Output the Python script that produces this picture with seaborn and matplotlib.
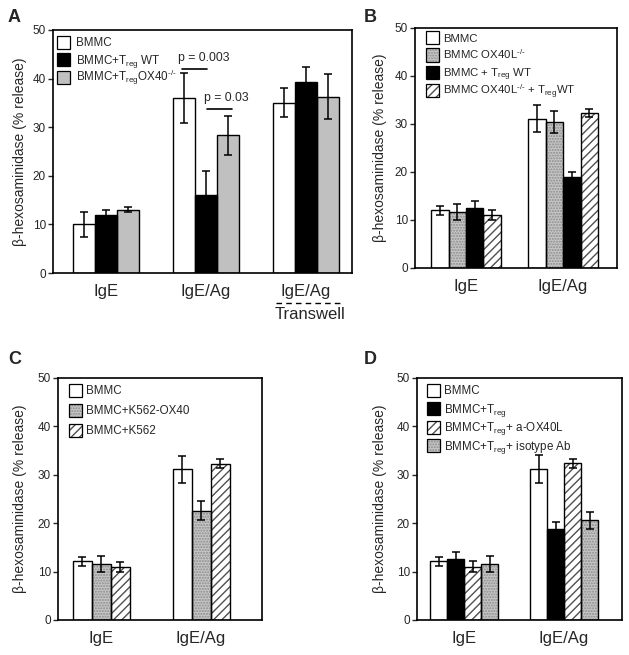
import numpy as np
import pandas as pd
import matplotlib
matplotlib.use('Agg')
import matplotlib.pyplot as plt
import matplotlib.transforms as mtransforms
from matplotlib.patches import Rectangle
import seaborn as sns

sns.set_style('ticks')
plt.rcParams['font.family'] = ['Liberation Sans', 'DejaVu Sans']
plt.rcParams['mathtext.fontset'] = 'custom'
plt.rcParams['mathtext.rm'] = 'Liberation Sans'
plt.rcParams['mathtext.it'] = 'Liberation Sans:italic'
plt.rcParams['mathtext.bf'] = 'Liberation Sans:bold'
plt.rcParams['hatch.linewidth'] = 1.0

## 데이터
# A
cats_a = ['IgE', 'IgE/Ag', 'IgE/Ag Transwell']
groups_a = ['BMMC', r'BMMC+T$_{\rm reg}$ WT', r'BMMC+T$_{\rm reg}$OX40$^{\text{-/-}}$']
a_bmmc = [10.0, 36.0, 35.0]
a_treg_wt = [12.0, 16.0, 39.3]
a_treg_ox40 = [13.0, 28.3, 36.3]
a_bmmc_err = [2.5, 5.2, 3.0]
a_treg_wt_err = [1.0, 4.9, 3.0]
a_treg_ox40_err = [0.5, 4.0, 4.7]

# B
cats_b = ['IgE', 'IgE/Ag']
groups_b = ['BMMC', r'BMMC OX40L$^{\text{-/-}}$', r'BMMC + T$_{\rm reg}$ WT',
            r'BMMC OX40L$^{\text{-/-}}$ + T$_{\rm reg}$WT']
b_bmmc = [12.0, 31.1]
b_ox40l = [11.6, 30.4]
b_treg_wt = [12.6, 18.9]
b_ox40l_treg = [11.0, 32.3]
b_bmmc_err = [1.0, 2.8]
b_ox40l_err = [1.7, 2.3]
b_treg_wt_err = [1.4, 1.2]
b_ox40l_treg_err = [1.0, 0.9]

# C
cats_c = ['IgE', 'IgE/Ag']
groups_c = ['BMMC', 'BMMC+K562-OX40', 'BMMC+K562']
c_bmmc = [12.1, 31.1]
c_k562_ox40 = [11.6, 22.6]
c_k562 = [11.0, 32.3]
c_bmmc_err = [0.9, 2.8]
c_k562_ox40_err = [1.6, 2.0]
c_k562_err = [1.0, 0.9]

# D
cats_d = ['IgE', 'IgE/Ag']
groups_d = ['BMMC', r'BMMC+T$_{\rm reg}$', r'BMMC+T$_{\rm reg}$+ a-OX40L',
            r'BMMC+T$_{\rm reg}$+ isotype Ab']
d_bmmc = [12.1, 31.2]
d_treg = [12.7, 18.9]
d_treg_aox40l = [11.0, 32.4]
d_treg_iso = [11.6, 20.6]
d_bmmc_err = [0.9, 2.8]
d_treg_err = [1.4, 1.3]
d_treg_aox40l_err = [1.1, 0.9]
d_treg_iso_err = [1.6, 1.8]

# 막대 스타일: (면색, 해치, 해치색)
WHITE = ('white', '', 'white')
BLACK = ('black', '', 'black')
GRAY = ('#c0c0c0', '', '#c0c0c0')
DOTS = ('#c6c6c6', '......', '#8c8c8c')
STRIPE = ('white', '////', '#505050')


def draw_panel(ax, cats, groups, vals, errs, styles, width, xlim, ylab_x):
    rows = [(c, g, v) for g, vs in zip(groups, vals) for c, v in zip(cats, vs)]
    df = pd.DataFrame(rows, columns=['cat', 'group', 'val'])
    faces = {g: s[0] for g, s in zip(groups, styles)}
    sns.barplot(data=df, x='cat', y='val', hue='group', order=cats, hue_order=groups,
                palette=faces, width=width, gap=0, linewidth=0, errorbar=None,
                legend=False, ax=ax)
    for cont, s in zip(ax.containers, styles):
        for p in cont:
            p.set_hatch(s[1])
            p.set_edgecolor(s[2])
            p.set_linewidth(0)
    sns.barplot(data=df, x='cat', y='val', hue='group', order=cats, hue_order=groups,
                palette={g: 'black' for g in groups}, fill=False, width=width, gap=0,
                linewidth=1.0, errorbar=None, legend=False, ax=ax)
    for cont, e in zip(ax.containers[:len(groups)], errs):
        xs = [p.get_x() + p.get_width() / 2 for p in cont]
        ys = [p.get_height() for p in cont]
        ax.errorbar(xs, ys, yerr=e, fmt='none', ecolor='black', elinewidth=1.1,
                    capsize=2.6, capthick=1.1, zorder=5)

    ax.set_ylim(0, 50)
    ax.set_yticks([0, 10, 20, 30, 40, 50])
    ax.set_xlim(*xlim)
    ax.set_xlabel('')
    ax.set_ylabel('β-hexosaminidase (% release)', fontsize=10)
    ax.yaxis.set_label_coords(ylab_x, 0.5)
    ax.tick_params(axis='y', labelsize=8.5, length=3.5, width=1.0, pad=1.5, direction='out')
    ax.tick_params(axis='x', labelsize=12, length=0, pad=8)
    for sp in ax.spines.values():
        sp.set_visible(True)
        sp.set_linewidth(1.2)
        sp.set_color('black')


def add_legend(ax, labels, styles, box_x, text_x, row_y, box=13, fs=8.4):
    # 범례: 축 왼쪽 위 기준 픽셀 간격으로 배치
    bb = ax.get_position()
    aw, ah = bb.width * W, bb.height * H
    for lab, s, yc in zip(labels, styles, row_y):
        x0 = box_x / aw
        y0 = 1 - (yc + box / 2) / ah
        ax.add_patch(Rectangle((x0, y0), box / aw, box / ah, transform=ax.transAxes,
                               facecolor=s[0], hatch=s[1], edgecolor=s[2], linewidth=0,
                               zorder=6))
        ax.add_patch(Rectangle((x0, y0), box / aw, box / ah, transform=ax.transAxes,
                               fill=False, edgecolor='black', linewidth=0.9, zorder=7))
        ax.text(text_x / aw, 1 - (yc + 4.2) / ah, lab, transform=ax.transAxes,
                ha='left', va='baseline', fontsize=fs, zorder=7)


fig = plt.figure(figsize=(6.29, 6.55), dpi=100)
W, H = 629, 655


def add_ax(x0, y0, x1, y1):
    return fig.add_axes([x0 / W, 1 - y1 / H, (x1 - x0) / W, (y1 - y0) / H])


ax_a = add_ax(53, 30, 352, 273)
ax_b = add_ax(415, 28, 617, 268)
ax_c = add_ax(58, 378, 262, 620)
ax_d = add_ax(417, 378, 622, 620)

draw_panel(ax_a, cats_a, groups_a, [a_bmmc, a_treg_wt, a_treg_ox40],
           [a_bmmc_err, a_treg_wt_err, a_treg_ox40_err],
           [WHITE, BLACK, GRAY], 0.66, (-0.53, 2.46), -0.087)
draw_panel(ax_b, cats_b, groups_b, [b_bmmc, b_ox40l, b_treg_wt, b_ox40l_treg],
           [b_bmmc_err, b_ox40l_err, b_treg_wt_err, b_ox40l_treg_err],
           [WHITE, DOTS, BLACK, STRIPE], 0.72, (-0.526, 1.556), -0.139)
draw_panel(ax_c, cats_c, groups_c, [c_bmmc, c_k562_ox40, c_k562],
           [c_bmmc_err, c_k562_ox40_err, c_k562_err],
           [WHITE, DOTS, STRIPE], 0.57, (-0.43, 1.61), -0.152)
draw_panel(ax_d, cats_d, groups_d, [d_bmmc, d_treg, d_treg_aox40l, d_treg_iso],
           [d_bmmc_err, d_treg_err, d_treg_aox40l_err, d_treg_iso_err],
           [WHITE, BLACK, STRIPE, DOTS], 0.68, (-0.47, 1.58), -0.144)

add_legend(ax_a, groups_a, [WHITE, BLACK, GRAY], 4, 23, [12, 29.5, 47])
add_legend(ax_b, groups_b, [WHITE, DOTS, BLACK, STRIPE], 11, 28, [9.5, 27, 44.5, 62.5], fs=8.2)
add_legend(ax_c, groups_c, [WHITE, DOTS, STRIPE], 11, 28, [12, 32, 52])
add_legend(ax_d, groups_d, [WHITE, BLACK, STRIPE, DOTS], 10, 27, [12, 30.5, 49, 67.5])

# A: x 라벨 + Transwell
ax_a.set_xticks(range(3))
ax_a.set_xticklabels(['IgE', 'IgE/Ag', 'IgE/Ag'])
trans = mtransforms.blended_transform_factory(ax_a.transData, ax_a.transAxes)
ax_a.plot([1.70, 2.36], [-0.123, -0.123], transform=trans, color='black', lw=1.0,
          linestyle=(0, (4, 3)), clip_on=False)
ax_a.text(2.04, -0.17, 'Transwell', transform=trans, ha='center', va='center', fontsize=12)

# A: p 값 표시
bars_w = ax_a.containers[0]
bars_k = ax_a.containers[1]
bars_g = ax_a.containers[2]
xw = bars_w[1].get_x() + bars_w[1].get_width() / 2
xk = bars_k[1].get_x() + bars_k[1].get_width() / 2
xg = bars_g[1].get_x() + bars_g[1].get_width() / 2
ax_a.plot([xw - 0.02, xk + 0.01], [42, 42], color='black', lw=1.2)
ax_a.text(xw - 0.06, 44.2, 'p = 0.003', ha='left', va='center', fontsize=8.8)
ax_a.plot([xk + 0.01, xg + 0.04], [33.7, 33.7], color='black', lw=1.2)
ax_a.text(xk - 0.02, 36.0, 'p = 0.03', ha='left', va='center', fontsize=8.8)

# 패널 라벨
for lab, x, y in [('A', 8, 9), ('B', 364, 9), ('C', 8, 351), ('D', 364, 351)]:
    fig.text(x / W, 1 - y / H, lab, fontsize=13, fontweight='bold', ha='left', va='top')

plt.savefig('out.png', dpi=100)
